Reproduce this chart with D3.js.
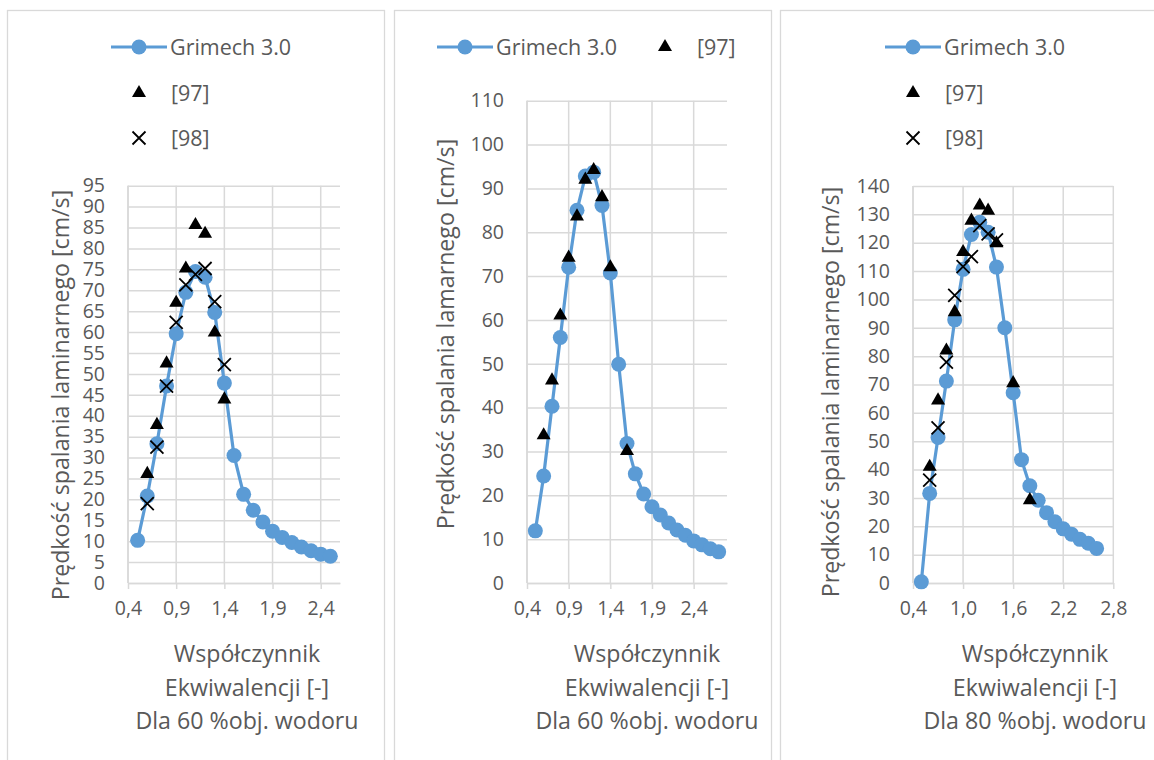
<!DOCTYPE html>
<html>
<head>
<meta charset="utf-8">
<script src="https://cdn.jsdelivr.net/npm/d3@7"></script>
<style>
  html, body { margin: 0; padding: 0; background: #fff; }
  svg text { font-family: "Open Sans", "Noto Sans", sans-serif; fill: #595959; }
</style>
</head>
<body>
<svg id="chart" width="1154" height="760"></svg>
<script>
// Laminar burning velocity vs. equivalence ratio — three panels

// Panel A (60 % H2, left)
const phiGriA = [0.5,0.6,0.7,0.8,0.9,1.0,1.1,1.2,1.3,1.4,1.5,1.6,1.7,1.8,1.9,2.0,2.1,2.2,2.3,2.4,2.5];
const sGriA   = [10.2,20.8,33.3,47.1,59.6,69.5,74.5,73.1,64.7,47.8,30.5,21.2,17.4,14.6,12.4,10.9,9.7,8.6,7.7,6.9,6.4];
const phi97A  = [0.6,0.7,0.8,0.9,1.0,1.1,1.2,1.3,1.4];
const s97A    = [26.1,37.8,52.5,67.0,75.2,85.6,83.5,59.9,43.9];
const phi98A  = [0.6,0.7,0.8,0.9,1.0,1.1,1.2,1.3,1.4];
const s98A    = [19.0,32.5,47.1,62.3,71.3,73.8,75.2,67.3,52.2];
const yTicksA = d3.range(0, 96, 5);
const xTicksA = [0.4,0.9,1.4,1.9,2.4];

// Panel B (60 % H2, middle)
const phiGriB = [0.5,0.6,0.7,0.8,0.9,1.0,1.1,1.2,1.3,1.4,1.5,1.6,1.7,1.8,1.9,2.0,2.1,2.2,2.3,2.4,2.5,2.6,2.7];
const sGriB   = [11.9,24.4,40.3,56.0,72.0,85.0,92.8,93.7,86.1,70.7,49.9,31.8,24.9,20.3,17.4,15.5,13.7,12.1,10.9,9.6,8.7,7.8,7.1];
const phi97B  = [0.6,0.7,0.8,0.9,1.0,1.1,1.2,1.3,1.4,1.6];
const s97B    = [33.7,46.2,61.0,74.2,83.6,92.0,94.2,88.0,72.0,30.1];
const yTicksB = d3.range(0, 111, 10);
const xTicksB = [0.4,0.9,1.4,1.9,2.4];

// Panel C (80 % H2, right)
const phiGriC = [0.5,0.6,0.7,0.8,0.9,1.0,1.1,1.2,1.3,1.4,1.5,1.6,1.7,1.8,1.9,2.0,2.1,2.2,2.3,2.4,2.5,2.6];
const sGriC   = [0.4,31.6,51.3,71.2,92.8,110.6,122.9,127.2,123.7,111.4,90.0,67.1,43.5,34.3,29.2,24.8,21.6,19.1,17.2,15.4,14.0,12.2];
const phi97C  = [0.6,0.7,0.8,0.9,1.0,1.1,1.2,1.3,1.4,1.6,1.8];
const s97C    = [41.0,64.4,82.0,95.5,116.7,127.8,133.1,131.3,119.8,70.5,29.2];
const phi98C  = [0.6,0.7,0.8,0.9,1.0,1.1,1.2,1.3,1.4];
const s98C    = [36.3,54.7,77.9,101.4,111.6,115.1,126.0,123.1,121.0];
const yTicksC = d3.range(0, 141, 10);
const xTicksC = [0.4,1.0,1.6,2.2,2.8];

const zip = (xs, ys) => xs.map((x, i) => ({x, y: ys[i]}));

const panels = [
  {
    frame: [7.5, 384.5], plot: {left: 128, right: 340, top: 185.7, bottom: 583},
    xDomain: [0.4, 2.6], xTicks: xTicksA, yDomain: [0, 95], yTicks: yTicksA,
    gri: zip(phiGriA, sGriA), r97: zip(phi97A, s97A), r98: zip(phi98A, s98A),
    yTitle: "Prędkość spalania laminarnego [cm/s]", yTitleX: 61, yTitleY: 395,
    legend: [{kind: "gri", x: 139, y: 47}, {kind: "r97", x: 139, y: 93}, {kind: "r98", x: 139, y: 138}],
    titleX: 247, note: "Dla 60 %obj. wodoru"
  },
  {
    frame: [394.5, 771.5], plot: {left: 527, right: 727, top: 100.7, bottom: 583},
    xDomain: [0.4, 2.8], xTicks: xTicksB, yDomain: [0, 110], yTicks: yTicksB,
    gri: zip(phiGriB, sGriB), r97: zip(phi97B, s97B), r98: [],
    yTitle: "Prędkość spalania lamarnego [cm/s]", yTitleX: 446, yTitleY: 334,
    legend: [{kind: "gri", x: 465, y: 47}, {kind: "r97", x: 665, y: 47}],
    titleX: 647, note: "Dla 60 %obj. wodoru"
  },
  {
    frame: [780.5, 1165], plot: {left: 913, right: 1113.3, top: 186, bottom: 583},
    xDomain: [0.4, 2.8], xTicks: xTicksC, yDomain: [0, 140], yTicks: yTicksC,
    gri: zip(phiGriC, sGriC), r97: zip(phi97C, s97C), r98: zip(phi98C, s98C),
    yTitle: "Prędkość spalania laminarnego [cm/s]", yTitleX: 831, yTitleY: 392,
    legend: [{kind: "gri", x: 913, y: 47}, {kind: "r97", x: 913, y: 93}, {kind: "r98", x: 913, y: 138}],
    titleX: 1035, note: "Dla 80 %obj. wodoru"
  }
];

const BLUE = "#5b9bd5";
const GRID = "#d9d9d9";
const TICK_FONT = 19.5;
const TITLE_FONT = 23.2;
const LEGEND_FONT = 21.5;
const fmt = v => d3.format(".1f")(v).replace(".", ",");
const tri = d3.symbol().type(d3.symbolTriangle).size(85);
const xMark = s => `M${-s},${-s}L${s},${s}M${-s},${s}L${s},${-s}`;

const svg = d3.select("#chart");

function drawMarker(g, kind, x, y) {
  if (kind === "gri") {
    g.append("circle").attr("cx", x).attr("cy", y).attr("r", 7.5).attr("fill", BLUE);
  } else if (kind === "r97") {
    g.append("path").attr("d", tri()).attr("transform", `translate(${x},${y})`).attr("fill", "#000");
  } else {
    g.append("path").attr("d", xMark(6.5)).attr("transform", `translate(${x},${y})`)
      .attr("stroke", "#000").attr("stroke-width", 1.8).attr("fill", "none");
  }
}

panels.forEach(p => {
  const g = svg.append("g");

  // panel frame
  g.append("rect")
    .attr("x", p.frame[0]).attr("y", 10.5)
    .attr("width", p.frame[1] - p.frame[0]).attr("height", 800)
    .attr("fill", "#fff").attr("stroke", GRID).attr("stroke-width", 1.3);

  const x = d3.scaleLinear().domain(p.xDomain).range([p.plot.left, p.plot.right]);
  const y = d3.scaleLinear().domain(p.yDomain).range([p.plot.bottom, p.plot.top]);

  // horizontal gridlines + y tick labels
  const yAxis = d3.axisLeft(y).tickValues(p.yTicks).tickSize(-(p.plot.right - p.plot.left))
    .tickPadding(23).tickFormat(d3.format("d"));
  const ya = g.append("g").attr("transform", `translate(${p.plot.left},0)`).call(yAxis);
  ya.select(".domain").remove();
  ya.selectAll(".tick line").attr("stroke", GRID).attr("stroke-width", 1.5);
  ya.selectAll(".tick text").style("font-size", TICK_FONT + "px").attr("font-family", null);

  // vertical gridlines
  g.append("g").selectAll("line").data(p.xTicks).join("line")
    .attr("x1", d => x(d)).attr("x2", d => x(d))
    .attr("y1", p.plot.top).attr("y2", p.plot.bottom)
    .attr("stroke", GRID).attr("stroke-width", 1.5);

  // bottom axis with outward ticks
  const xAxis = d3.axisBottom(x).tickValues(p.xTicks).tickSize(6).tickSizeOuter(0)
    .tickPadding(12).tickFormat(fmt);
  const xa = g.append("g").attr("transform", `translate(0,${p.plot.bottom})`).call(xAxis);
  xa.select(".domain").attr("stroke", GRID).attr("stroke-width", 1.5);
  xa.selectAll(".tick line").attr("stroke", GRID).attr("stroke-width", 1.5);
  xa.selectAll(".tick text").style("font-size", TICK_FONT + "px").attr("font-family", null);

  // left axis line
  g.append("line").attr("x1", p.plot.left).attr("x2", p.plot.left)
    .attr("y1", p.plot.top).attr("y2", p.plot.bottom)
    .attr("stroke", GRID).attr("stroke-width", 1.5);

  // y-axis title
  g.append("text")
    .attr("transform", `translate(${p.yTitleX},${p.yTitleY}) rotate(-90)`)
    .attr("text-anchor", "middle").attr("dy", "0.35em")
    .style("font-size", TITLE_FONT + "px").text(p.yTitle);

  // x-axis title (three lines)
  ["Współczynnik", "Ekwiwalencji [-]", p.note].forEach((t, i) => {
    g.append("text").attr("x", p.titleX).attr("y", 654 + i * 33.5)
      .attr("text-anchor", "middle").attr("dy", "0.35em")
      .style("font-size", TITLE_FONT + "px").text(t);
  });

  // Grimech 3.0 line + markers
  g.append("path").datum(p.gri)
    .attr("d", d3.line().x(d => x(d.x)).y(d => y(d.y)))
    .attr("fill", "none").attr("stroke", BLUE).attr("stroke-width", 3.2)
    .attr("stroke-linejoin", "round");
  p.gri.forEach(d => drawMarker(g, "gri", x(d.x), y(d.y)));
  p.r97.forEach(d => drawMarker(g, "r97", x(d.x), y(d.y)));
  p.r98.forEach(d => drawMarker(g, "r98", x(d.x), y(d.y)));

  // legend
  const labels = {gri: "Grimech 3.0", r97: "[97]", r98: "[98]"};
  p.legend.forEach(l => {
    if (l.kind === "gri") {
      g.append("line").attr("x1", l.x - 28).attr("x2", l.x + 28)
        .attr("y1", l.y).attr("y2", l.y).attr("stroke", BLUE).attr("stroke-width", 3.2);
    }
    drawMarker(g, l.kind, l.x, l.y);
    g.append("text").attr("x", l.x + (l.kind === "gri" ? 31 : 32)).attr("y", l.y)
      .attr("dy", "0.35em").style("font-size", LEGEND_FONT + "px").text(labels[l.kind]);
  });
});
</script>
</body>
</html>
